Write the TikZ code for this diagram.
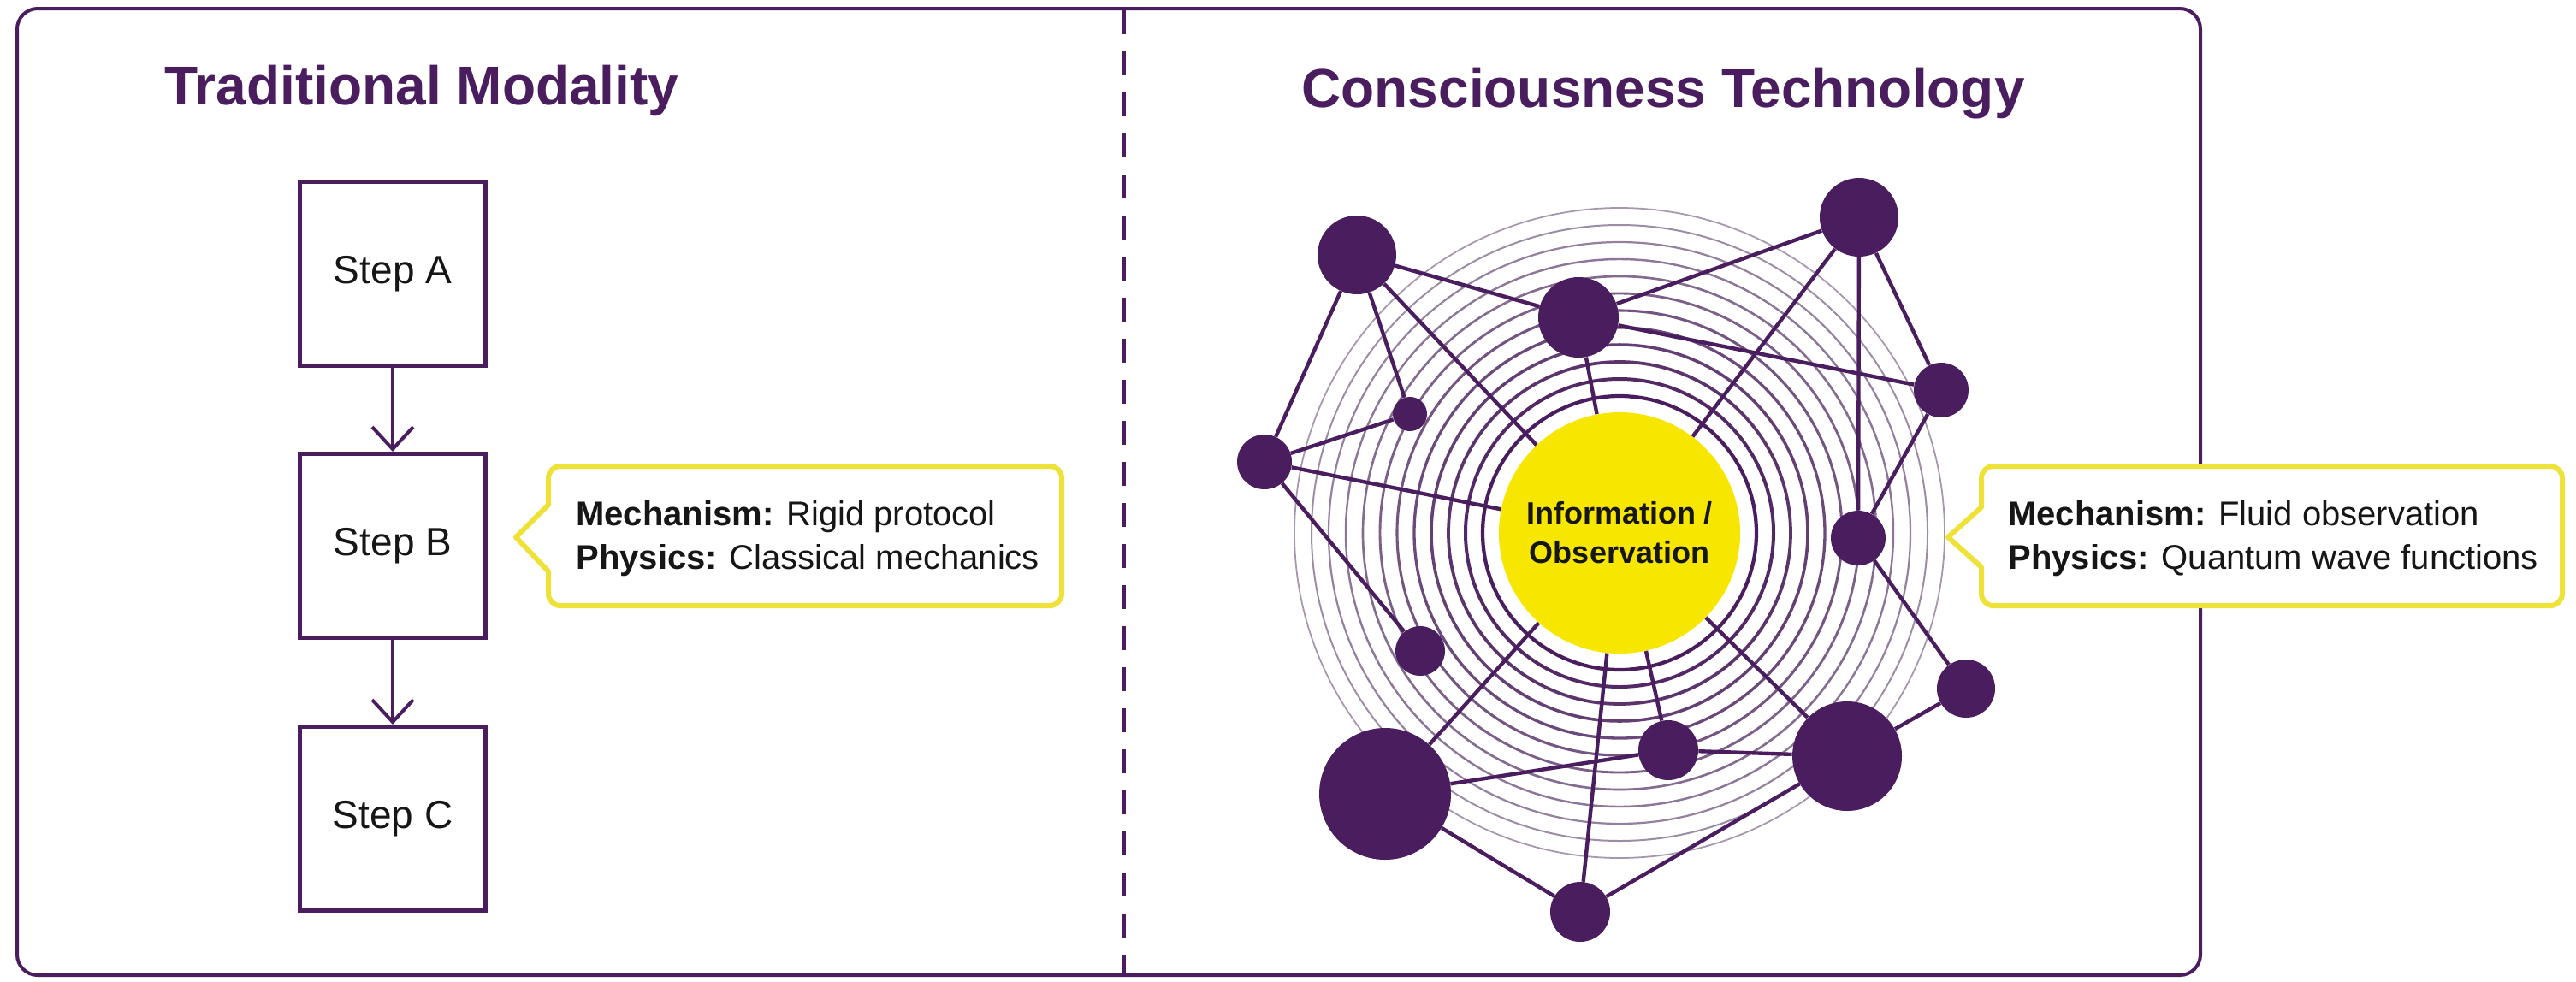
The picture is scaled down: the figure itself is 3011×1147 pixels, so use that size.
\documentclass[tikz,border=0pt]{standalone}
\usepackage{fontspec}
\setmainfont{Liberation Sans}
\usetikzlibrary{arrows.meta}
\definecolor{pur}{RGB}{74,30,94}
\definecolor{yel}{RGB}{247,230,0}
\definecolor{callyel}{RGB}{238,226,56}
\definecolor{txt}{RGB}{22,22,22}
\definecolor{ringout}{RGB}{178,168,184}
\begin{document}
\begin{tikzpicture}[x=0.5pt,y=-0.5pt,
  title/.style={font=\fontsize{32}{38}\selectfont\bfseries, text=pur, inner sep=0},
  stepbox/.style={draw=pur, line width=2.5pt, minimum width=108.5pt, minimum height=107.5pt, inner sep=0, font=\fontsize{23}{27}\selectfont, text=txt},
  flow/.style={draw=pur, line width=2pt, -{Straight Barb[length=13pt,width=24pt]}},
  calltext/.style={font=\fontsize{20}{25.5}\selectfont, text=txt, align=left, inner sep=0},
  callborder/.style={draw=callyel, line width=3pt, fill=white, line join=round},
  dot/.style={circle, fill=pur, inner sep=0},
  link/.style={draw=pur, line width=2.2pt},
  core/.style={circle, fill=yel, inner sep=0, minimum size=141pt, align=center, font=\fontsize{18}{23}\selectfont\bfseries, text=txt}
]
\useasboundingbox (0,0) rectangle (3011,1147);
\fill[white] (0,0) rectangle (3011,1147);

% frame and divider
\draw[pur, line width=2pt, rounded corners=12pt] (20,10) rectangle (2572,1140);
\draw[pur, line width=2pt, dash pattern=on 14pt off 10pt] (1314,12) -- (1314,1140);

% titles
\node[title, anchor=base west] (t1) at (192,122) {Traditional Modality};
\node[title, anchor=base] (t2) at (1944,125) {Consciousness Technology};

% steps
\node[stepbox] (sa) at (459,320) {Step A};
\node[stepbox] (sb) at (459,638) {Step B};
\node[stepbox] (sc) at (459,957) {Step C};
\draw[flow] (sa) -- (sb);
\draw[flow] (sb) -- (sc);

% left callout
\draw[callborder] (641,590) -- (603,628) -- (641,668) {[rounded corners=7pt] -- (641,708) -- (1241,708) -- (1241,545) -- (641,545) -- (641,590)} -- cycle;
\node[calltext, anchor=west] (cl) at (673,630) {\textbf{Mechanism:} Rigid protocol\\\textbf{Physics:} Classical mechanics};

% rings
\coordinate (ctr) at (1893,623);
\foreach \k in {0,...,11}{
  \pgfmathtruncatemacro\cc{100-8*\k}
  \pgfmathsetmacro\rr{(160+20*\k)*0.5}
  \pgfmathsetmacro\lw{2.1-0.11*\k}
  \draw[draw=pur!\cc!ringout, line width=\lw pt] (ctr) circle[radius=\rr pt];
}

% network nodes
\node[core] (c) at (ctr) {Information /\\Observation};
\node[dot, minimum size=46pt] (n1) at (1586,298) {};
\node[dot, minimum size=47pt] (n2) at (1845,371) {};
\node[dot, minimum size=46pt] (n3) at (2173,254) {};
\node[dot, minimum size=20pt] (n4) at (1648,484) {};
\node[dot, minimum size=32pt] (n5) at (1478,540) {};
\node[dot, minimum size=32pt] (n6) at (2269,456) {};
\node[dot, minimum size=32pt] (n7) at (2172,629) {};
\node[dot, minimum size=29pt] (n8) at (1660,761) {};
\node[dot, minimum size=77pt] (n9) at (1619,928) {};
\node[dot, minimum size=35pt] (n10) at (1950,877) {};
\node[dot, minimum size=64pt] (n11) at (2159,884) {};
\node[dot, minimum size=34pt] (n12) at (2298,805) {};
\node[dot, minimum size=35pt] (n13) at (1847,1066) {};

% links
\draw[link] (n1) -- (n2);
\draw[link] (n1) -- (n4);
\draw[link] (n1) -- (c);
\draw[link] (n1) -- (n5);
\draw[link] (n5) -- (n4);
\draw[link] (n5) -- (c);
\draw[link] (n5) -- (n8);
\draw[link] (n2) -- (c);
\draw[link] (n2) -- (n3);
\draw[link] (n2) -- (n6);
\draw[link] (n3) -- (c);
\draw[link] (n3) -- (n7);
\draw[link] (n3) -- (n6);
\draw[link] (n6) -- (n7);
\draw[link] (n7) -- (n12);
\draw[link] (n12) -- (n11);
\draw[link] (c) -- (n11);
\draw[link] (c) -- (n10);
\draw[link] (c) -- (n9);
\draw[link] (c) -- (n13);
\draw[link] (n9) -- (n10);
\draw[link] (n10) -- (n11);
\draw[link] (n9) -- (n13);
\draw[link] (n11) -- (n13);

% right callout
\draw[callborder] (2316,593) -- (2277,628) -- (2316,663) {[rounded corners=7pt] -- (2316,708) -- (2995,708) -- (2995,545) -- (2316,545) -- (2316,593)} -- cycle;
\node[calltext, anchor=west] (cr) at (2347,630) {\textbf{Mechanism:} Fluid observation\\\textbf{Physics:} Quantum wave functions};
\end{tikzpicture}
\end{document}
